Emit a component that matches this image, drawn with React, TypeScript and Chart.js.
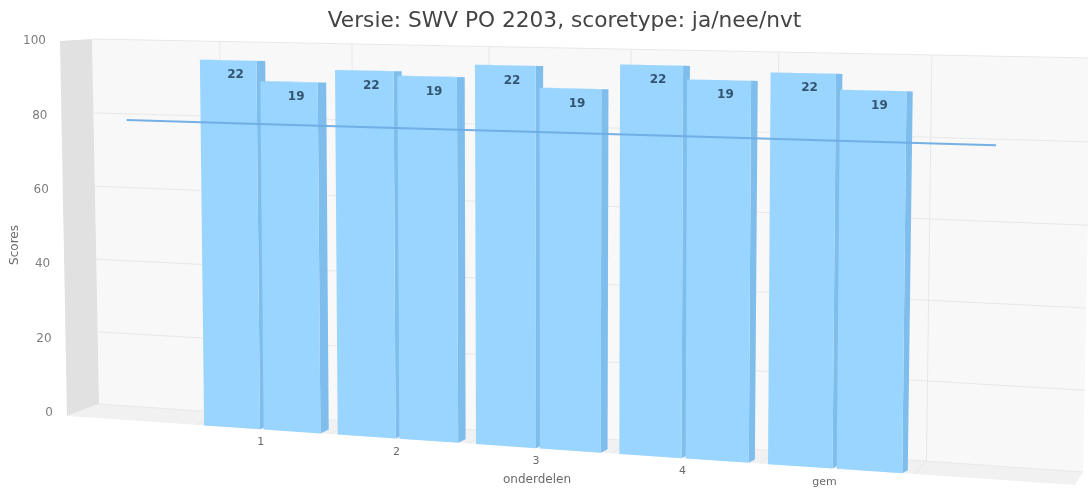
import React, { useEffect, useRef } from "react";
import { Chart, registerables } from "chart.js";

Chart.register(...registerables);

const categories = ["", "1", "2", "3", "4", "gem", ""];
const scoresFirst = [null, 95.8, 93.9, 96, 96.8, 95.6, null];
const scoresSecond = [null, 90.6, 92.8, 90.6, 93.5, 91.8, null];
const average = [79.6, 79.6, 79.6, 79.6, 79.6, 79.6, 79.6];
const countsFirst = [null, 22, 22, 22, 22, 22, null];
const countsSecond = [null, 19, 19, 19, 19, 19, null];
const yTicks = { min: 0, max: 100, step: 20 };

type Pt = [number, number];
// Perspective frame of the 3D box: corners bottom-left, bottom-right, top-right, top-left
const FRONT_QUAD: Pt[] = [[67, 416], [1075, 485], [1069, 60], [60, 41]];
const BACK_QUAD: Pt[] = [[99, 404], [1083, 472], [1091, 58], [92, 39]];
// Front and rear planes of the columns
const BAR_FRONT_QUAD: Pt[] = [[67, 416], [1072, 485], [1079, 60], [61, 41]];
const BAR_REAR_QUAD: Pt[] = [[77, 412], [1077, 482], [1085, 60.5], [71, 41]];
const TICK_NUDGE = [0, -1, -1, -2, -1, -10, 0];
const FONT = '"DejaVu Sans", sans-serif';

function homography(q: Pt[]) {
  const [[x0, y0], [x1, y1], [x2, y2], [x3, y3]] = q;
  const dx1 = x1 - x2, dx2 = x3 - x2, dx3 = x0 - x1 + x2 - x3;
  const dy1 = y1 - y2, dy2 = y3 - y2, dy3 = y0 - y1 + y2 - y3;
  const det = dx1 * dy2 - dx2 * dy1;
  const g = (dx3 * dy2 - dx2 * dy3) / det;
  const h = (dx1 * dy3 - dx3 * dy1) / det;
  const a = x1 - x0 + g * x1, b = x3 - x0 + h * x3;
  const d = y1 - y0 + g * y1, e = y3 - y0 + h * y3;
  return (u: number, v: number): Pt => {
    const w = g * u + h * v + 1;
    return [(a * u + b * v + x0) / w, (d * u + e * v + y0) / w];
  };
}
const frontH = homography(FRONT_QUAD);
const backH = homography(BACK_QUAD);
const barFrontH = homography(BAR_FRONT_QUAD);
const barRearH = homography(BAR_REAR_QUAD);

const box3d = {
  id: "box3d",
  beforeDatasetsDraw(chart: any) {
    const { ctx, chartArea: ca, scales } = chart;
    const uv = (px: number, py: number): Pt => [
      (px - ca.left) / (ca.right - ca.left),
      (ca.bottom - py) / (ca.bottom - ca.top),
    ];
    const F = (px: number, py: number) => frontH(...uv(px, py));
    const B = (px: number, py: number) => backH(...uv(px, py));
    const BF = (px: number, py: number) => barFrontH(...uv(px, py));
    const BR = (px: number, py: number) => barRearH(...uv(px, py));
    const poly = (pts: Pt[], fill: string) => {
      ctx.beginPath();
      pts.forEach((p, i) => (i ? ctx.lineTo(p[0], p[1]) : ctx.moveTo(p[0], p[1])));
      ctx.closePath();
      ctx.fillStyle = fill;
      ctx.fill();
    };
    const seg = (a: Pt, b: Pt, color: string, w = 1) => {
      ctx.beginPath();
      ctx.moveTo(a[0], a[1]);
      ctx.lineTo(b[0], b[1]);
      ctx.strokeStyle = color;
      ctx.lineWidth = w;
      ctx.stroke();
    };
    ctx.save();
    // walls
    const [fbl, fbr, , ftl] = FRONT_QUAD;
    const [bbl, bbr, btr, btl] = BACK_QUAD;
    poly([bbl, bbr, btr, btl], "#f8f8f8");
    poly([fbl, bbl, btl, ftl], "#e1e1e1");
    poly([fbl, fbr, bbr, bbl], "#f1f1f1");
    // grid
    const yScale = scales.y, xScale = scales.x;
    yScale.ticks.forEach((t: any) => {
      const py = yScale.getPixelForValue(t.value);
      seg(B(ca.left, py), B(ca.right, py), "#e8e8e8");
    });
    const n = categories.length;
    for (let k = 1; k < n; k++) {
      const px = ca.left + ((ca.right - ca.left) * k) / n;
      seg(B(px, ca.top), B(px, ca.bottom), "#e8e8e8");
      seg(B(px, ca.bottom), F(px, ca.bottom), "#e8e8e8");
    }
    // bars, left to right
    const metas = [chart.getDatasetMeta(0), chart.getDatasetMeta(1)];
    const counts = [countsFirst, countsSecond];
    const drawn: { text: string; x: number; y: number }[] = [];
    for (let i = 0; i < n; i++) {
      metas.forEach((meta, s) => {
        const el = meta.data[i];
        if (!el || scoresFirst[i] == null) return;
        const { x, y, base, width } = el.getProps(["x", "y", "base", "width"], true);
        const l = x - width / 2, r = x + width / 2;
        poly([BF(r, base), BR(r, base), BR(r, y), BF(r, y)], "#7fbdec");
        poly([BF(l, y), BF(r, y), BR(r, y), BR(l, y)], "#8fcdf8");
        poly([BF(l, base), BF(r, base), BF(r, y), BF(l, y)], "#99d5ff");
        const tl = BF(l, y), tr = BR(r, y);
        drawn.push({ text: String(counts[s][i]), x: (tl[0] + tr[0]) / 2 + 3, y: (tl[1] + tr[1]) / 2 + 15 });
      });
    }
    // line
    const lineMeta = chart.getDatasetMeta(2);
    const pts: Pt[] = lineMeta.data.map((e: any) => BF(e.x, e.y));
    ctx.beginPath();
    pts.forEach((p, i) => (i ? ctx.lineTo(p[0], p[1]) : ctx.moveTo(p[0], p[1])));
    ctx.strokeStyle = "rgba(110,172,228,0.95)";
    ctx.lineWidth = 2;
    ctx.stroke();
    // data labels
    ctx.textAlign = "center";
    ctx.textBaseline = "middle";
    ctx.font = `bold 12px ${FONT}`;
    ctx.fillStyle = "#33556f";
    drawn.forEach((d) => ctx.fillText(d.text, d.x, d.y));
    // y tick labels
    ctx.fillStyle = "#7d7d7d";
    ctx.font = `12px ${FONT}`;
    ctx.textAlign = "right";
    yScale.ticks.forEach((t: any) => {
      const py = yScale.getPixelForValue(t.value);
      const p = F(ca.left, py);
      ctx.fillText(String(t.value), p[0] - 14, p[1] - 3 * (1 - t.value / 100));
    });
    // x tick labels
    ctx.textAlign = "center";
    ctx.font = `11px ${FONT}`;
    ctx.fillStyle = "#6a6a6a";
    categories.forEach((c, i) => {
      if (!c) return;
      const p = BF(xScale.getPixelForValue(i), ca.bottom);
      ctx.fillText(c, p[0] + TICK_NUDGE[i], p[1] + 13);
    });
    // axis titles
    ctx.font = `12px ${FONT}`;
    ctx.fillStyle = "#6a6a6a";
    ctx.fillText(xScale.options.title.text, 537, 480);
    ctx.save();
    ctx.translate(15, 245);
    ctx.rotate(-Math.PI / 2);
    ctx.fillText(yScale.options.title.text, 0, 0);
    ctx.restore();
    ctx.restore();
    return false;
  },
};

export default function App() {
  const ref = useRef<HTMLCanvasElement>(null);
  useEffect(() => {
    document.body.style.margin = "0";
    const chart = new Chart(ref.current as HTMLCanvasElement, {
      type: "bar",
      plugins: [box3d],
      data: {
        labels: categories,
        datasets: [
          { type: "bar", label: "a", data: scoresFirst, categoryPercentage: 0.9, barPercentage: 0.94 },
          { type: "bar", label: "b", data: scoresSecond, categoryPercentage: 0.9, barPercentage: 0.94 },
          { type: "line", label: "gemiddelde", data: average },
        ],
      } as any,
      options: {
        responsive: false,
        animation: false,
        layout: { padding: { left: 46, right: 0, top: 0, bottom: 30 } },
        plugins: {
          legend: { display: false },
          tooltip: { enabled: false },
          title: {
            display: true,
            fullSize: false,
            text: "Versie: SWV PO 2203, scoretype: ja/nee/nvt",
            color: "#444444",
            font: { family: FONT, size: 21.7, weight: "normal" },
            padding: { top: 8, bottom: 10 },
          },
        },
        scales: {
          x: {
            ticks: { display: false },
            grid: { display: false, drawTicks: false },
            border: { display: false },
            title: { display: false, text: "onderdelen" },
          },
          y: {
            min: yTicks.min,
            max: yTicks.max,
            ticks: { display: false, stepSize: yTicks.step },
            grid: { display: false, drawTicks: false },
            border: { display: false },
            title: { display: false, text: "Scores" },
          },
        },
      } as any,
    });
    return () => chart.destroy();
  }, []);
  return <canvas ref={ref} width={1088} height={491} style={{ display: "block" }} />;
}
